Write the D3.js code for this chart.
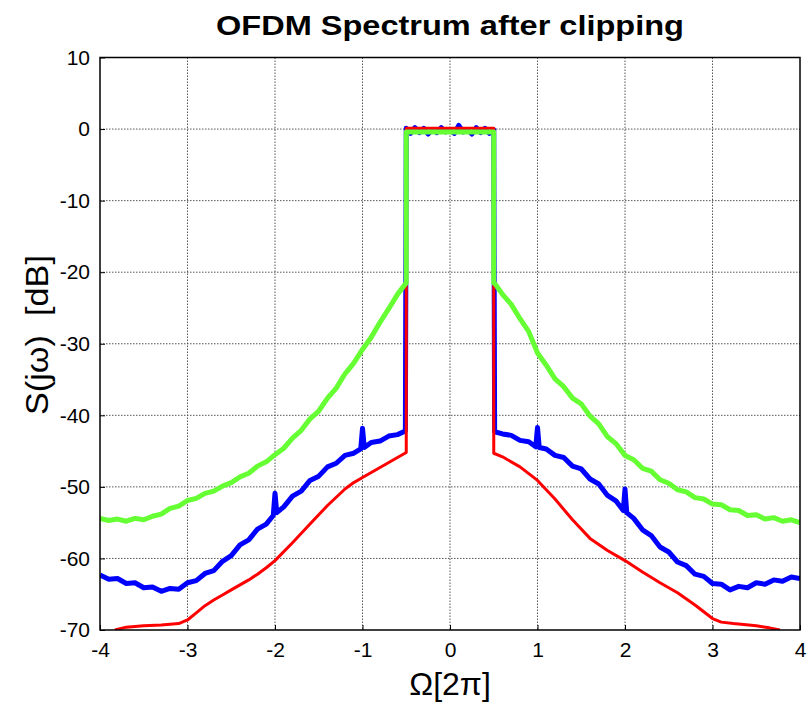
<!DOCTYPE html>
<html>
<head>
<meta charset="utf-8">
<script src="https://cdn.jsdelivr.net/npm/d3@7"></script>
<style>
  body { margin: 0; background: #fff; }
  text { font-family: Arial, "Liberation Sans", sans-serif; }
</style>
</head>
<body>
<div id="chart"></div>
<script>
var width = 807;
var height = 704;

var xTicks = [-4, -3, -2, -1, 0, 1, 2, 3, 4];
var yTicks = [10, 0, -10, -20, -30, -40, -50, -60, -70];

// blue: clipped signal spectrum (noisy, with spurs at integer frequencies)
var blueData = [
  [-4.0, -62.3], [-3.9, -62.9], [-3.8, -62.8], [-3.7, -63.5], [-3.6, -63.4], [-3.5, -64.1],
  [-3.4, -64.0], [-3.3, -64.6], [-3.2, -64.2], [-3.1, -64.3], [-3.0, -63.4], [-2.9, -63.1],
  [-2.8, -62.1], [-2.7, -61.7], [-2.6, -60.4], [-2.5, -59.6], [-2.4, -58.1], [-2.3, -57.4],
  [-2.2, -55.9], [-2.1, -55.2], [-2.02, -54.0], [-2.0, -50.9], [-1.98, -53.6], [-1.9, -52.8],
  [-1.8, -51.3], [-1.7, -50.6], [-1.6, -49.1], [-1.5, -48.5], [-1.4, -47.2], [-1.3, -46.7],
  [-1.2, -45.6], [-1.1, -45.3], [-1.02, -44.7], [-1.0, -41.8], [-0.98, -44.5], [-0.9, -43.8],
  [-0.8, -43.6], [-0.7, -42.9], [-0.6, -42.7], [-0.51, -42.2],
  [-0.5, 0.1], [-0.45, -0.6], [-0.4, 0.2], [-0.35, -0.5], [-0.3, 0.1], [-0.25, -0.7],
  [-0.2, -0.1], [-0.15, -0.5], [-0.1, 0.2], [-0.05, -0.4], [0.0, -0.2], [0.05, -0.6],
  [0.1, 0.5], [0.15, -0.4], [0.2, -0.1], [0.25, -0.7], [0.3, 0.2], [0.35, -0.5],
  [0.4, 0.1], [0.45, -0.6], [0.5, -0.1],
  [0.51, -42.3], [0.6, -42.6], [0.7, -42.8], [0.8, -43.5], [0.9, -43.7], [0.98, -44.4],
  [1.0, -41.7], [1.02, -44.5], [1.1, -44.7], [1.2, -45.6], [1.3, -45.9], [1.4, -47.1],
  [1.5, -47.5], [1.6, -48.9], [1.7, -49.6], [1.8, -51.2], [1.9, -52.0], [1.98, -53.3],
  [2.0, -50.3], [2.02, -53.6], [2.1, -54.4], [2.2, -56.0], [2.3, -56.8], [2.4, -58.4],
  [2.5, -59.1], [2.6, -60.5], [2.7, -61.0], [2.8, -62.2], [2.9, -62.5], [3.0, -63.5],
  [3.1, -63.6], [3.2, -64.4], [3.3, -63.9], [3.4, -64.1], [3.5, -63.4], [3.6, -63.6],
  [3.7, -63.0], [3.8, -63.2], [3.9, -62.6], [4.0, -62.8]
];

// red: clipped and filtered
var redData = [
  [-3.83, -70.0], [-3.7, -69.6], [-3.5, -69.4], [-3.3, -69.3], [-3.1, -69.1], [-3.0, -68.6],
  [-2.9, -67.6], [-2.8, -66.6], [-2.7, -65.8], [-2.6, -65.1], [-2.5, -64.4], [-2.4, -63.7],
  [-2.3, -63.0], [-2.2, -62.2], [-2.1, -61.3], [-2.0, -60.3], [-1.8, -57.8], [-1.6, -55.2],
  [-1.4, -52.6], [-1.2, -50.3], [-1.1, -49.4], [-1.0, -48.7], [-0.8, -47.3], [-0.6, -45.9],
  [-0.5, -45.2], [-0.5, 0.1], [0.5, 0.1], [0.5, -45.3],
  [0.6, -45.8], [0.8, -47.2], [1.0, -49.1], [1.2, -51.7], [1.4, -54.6], [1.6, -57.2],
  [1.8, -58.9], [2.0, -60.3], [2.2, -61.9], [2.4, -63.4], [2.6, -64.8], [2.8, -66.5],
  [3.0, -68.4], [3.1, -68.9], [3.24, -69.1], [3.5, -69.4], [3.65, -69.7], [3.77, -70.0]
];

// green: unclipped reference spectrum
var greenData = [
  [-4.0, -54.4], [-3.9, -54.7], [-3.8, -54.5], [-3.7, -54.8], [-3.6, -54.4], [-3.5, -54.6],
  [-3.4, -54.1], [-3.3, -53.8], [-3.2, -53.0], [-3.1, -52.7], [-3.0, -51.9], [-2.9, -51.6],
  [-2.8, -50.9], [-2.7, -50.6], [-2.6, -49.9], [-2.5, -49.4], [-2.4, -48.6], [-2.3, -48.1],
  [-2.2, -47.1], [-2.1, -46.5], [-2.0, -45.5], [-1.9, -44.6], [-1.8, -43.2], [-1.7, -42.1],
  [-1.6, -40.5], [-1.5, -39.4], [-1.4, -37.6], [-1.3, -36.2], [-1.2, -34.2], [-1.1, -32.7],
  [-1.0, -30.8], [-0.9, -29.1], [-0.8, -27.0], [-0.7, -25.1], [-0.6, -23.1], [-0.52, -21.8],
  [-0.5, -21.5], [-0.5, -0.4], [0.5, -0.4], [0.5, -21.5],
  [0.52, -21.7], [0.6, -23.1], [0.7, -24.5], [0.8, -26.5], [0.9, -28.3], [1.0, -31.3],
  [1.1, -33.0], [1.2, -34.9], [1.3, -36.0], [1.4, -37.6], [1.5, -38.4], [1.6, -40.1],
  [1.7, -41.2], [1.8, -43.0], [1.9, -44.0], [2.0, -45.6], [2.1, -46.2], [2.2, -47.4],
  [2.3, -47.8], [2.4, -49.0], [2.5, -49.5], [2.6, -50.4], [2.7, -50.7], [2.8, -51.5],
  [2.9, -51.7], [3.0, -52.4], [3.1, -52.5], [3.2, -53.2], [3.3, -53.3], [3.4, -54.0],
  [3.5, -53.9], [3.6, -54.5], [3.7, -54.3], [3.8, -54.8], [3.9, -54.6], [4.0, -55.0]
];

var margin = { top: 57.5, right: 7, bottom: 74, left: 100 };
var chartWidth = width - margin.left - margin.right;
var chartHeight = height - margin.top - margin.bottom;

var svg = d3.select("#chart")
  .append("svg")
  .attr("width", width)
  .attr("height", height);

var chartGroup = svg.append("g")
  .attr("transform", `translate(${margin.left}, ${margin.top})`);

var xScale = d3.scaleLinear().domain([-4, 4]).range([0, chartWidth]);
var yScale = d3.scaleLinear().domain([-70, 10]).range([chartHeight, 0]);

// grid
chartGroup.append("g")
  .selectAll("line")
  .data(xTicks.slice(1, -1))
  .join("line")
  .attr("x1", d => xScale(d)).attr("x2", d => xScale(d))
  .attr("y1", 0).attr("y2", chartHeight)
  .attr("stroke", "#555")
  .attr("stroke-width", 1)
  .attr("stroke-dasharray", "1.5,1.5");

chartGroup.append("g")
  .selectAll("line")
  .data(yTicks.slice(1, -1))
  .join("line")
  .attr("x1", 0).attr("x2", chartWidth)
  .attr("y1", d => yScale(d)).attr("y2", d => yScale(d))
  .attr("stroke", "#555")
  .attr("stroke-width", 1)
  .attr("stroke-dasharray", "1.5,1.5");

// curves
chartGroup.append("clipPath")
  .attr("id", "plotClip")
  .append("rect")
  .attr("width", chartWidth)
  .attr("height", chartHeight);

var line = d3.line()
  .x(d => xScale(d[0]))
  .y(d => yScale(d[1]));

var curves = chartGroup.append("g").attr("clip-path", "url(#plotClip)");

curves.append("path")
  .datum(blueData)
  .attr("d", line)
  .attr("fill", "none")
  .attr("stroke", "#0000ff")
  .attr("stroke-width", 5)
  .attr("stroke-linejoin", "round");

curves.append("path")
  .datum(redData)
  .attr("d", line)
  .attr("fill", "none")
  .attr("stroke", "#ff0000")
  .attr("stroke-width", 3)
  .attr("stroke-linejoin", "round");

curves.append("path")
  .datum(greenData)
  .attr("d", line)
  .attr("fill", "none")
  .attr("stroke", "#66ff33")
  .attr("stroke-width", 5)
  .attr("stroke-linejoin", "round");

// axes
var xAxis = d3.axisBottom(xScale).tickValues(xTicks).tickSize(-5).tickPadding(12).tickFormat(d => String(d));
var yAxis = d3.axisLeft(yScale).tickValues(yTicks).tickSize(-5).tickPadding(10).tickFormat(d => String(d));

var xAxisG = chartGroup.append("g")
  .attr("transform", `translate(0, ${chartHeight})`)
  .call(xAxis);

var yAxisG = chartGroup.append("g")
  .call(yAxis);

[xAxisG, yAxisG].forEach(function(g) {
  g.select(".domain").remove();
  g.selectAll("line").attr("stroke", "#000");
  g.selectAll("text")
    .style("font-size", "21px")
    .style("font-family", "Arial, 'Liberation Sans', sans-serif")
    .attr("fill", "#000");
});

// box
chartGroup.append("rect")
  .attr("width", chartWidth)
  .attr("height", chartHeight)
  .attr("fill", "none")
  .attr("stroke", "#000")
  .attr("stroke-width", 1.5);

// labels
svg.append("text")
  .attr("x", margin.left + chartWidth / 2)
  .attr("y", 35)
  .attr("text-anchor", "middle")
  .attr("textLength", 468)
  .attr("lengthAdjust", "spacingAndGlyphs")
  .style("font-size", "28px")
  .style("font-weight", "bold")
  .text("OFDM Spectrum after clipping");

svg.append("text")
  .attr("x", margin.left + chartWidth / 2)
  .attr("y", 695)
  .attr("text-anchor", "middle")
  .style("font-size", "32px")
  .text("Ω[2π]");

svg.append("text")
  .attr("transform", "rotate(-90)")
  .attr("x", -335)
  .attr("y", 48)
  .attr("text-anchor", "middle")
  .attr("textLength", 160)
  .attr("lengthAdjust", "spacingAndGlyphs")
  .style("font-size", "31px")
  .text("S(jω)\u00a0\u00a0[dB]");
</script>
</body>
</html>
